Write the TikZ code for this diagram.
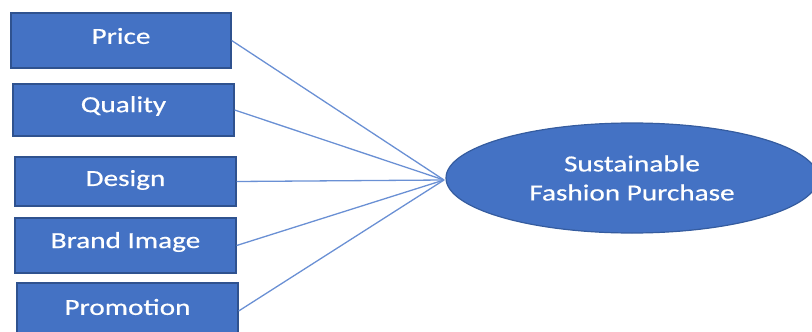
\documentclass[tikz,border=0pt]{standalone}
\usepackage{fontspec}
\newfontfamily\boxfont[FakeStretch=1.27,FakeBold=0.6]{Carlito}
\usetikzlibrary{shapes.geometric}
\definecolor{fillblue}{HTML}{4472C4}
\definecolor{edgeblue}{HTML}{2F528F}
\definecolor{lineblue}{HTML}{6A90D4}
\tikzset{
  factor/.style={draw=edgeblue, line width=1.3pt, fill=fillblue, text=white,
    font=\boxfont\fontsize{23}{27}\selectfont, inner sep=0pt},
  outcome/.style={ellipse, draw=edgeblue!70!fillblue, line width=1.2pt, fill=fillblue, text=white,
    font=\boxfont\fontsize{23}{29}\selectfont, align=center, inner sep=0pt,
    minimum width=372pt, minimum height=110pt},
  link/.style={draw=lineblue, line width=1.3pt},
  lbl/.style={text=white, font=\boxfont\fontsize{23}{27}\selectfont, inner sep=0pt}
}
\begin{document}
\begin{tikzpicture}[x=1pt,y=-1pt]
\useasboundingbox (0,0) rectangle (812,332);
\begin{scope}
\clip (0,0) rectangle (812,332);
\node[factor, minimum width=220pt, minimum height=55pt] (price) at (121,40.5) {};
\node[lbl] (priceT) at (121,36) {Price};
\node[factor, minimum width=221pt, minimum height=52pt] (quality) at (123.5,110) {};
\node[lbl] (qualityT) at (123.5,106) {Quality};
\node[factor, minimum width=221pt, minimum height=49pt] (design) at (125.5,181.5) {};
\node[lbl] (designT) at (125.5,180) {Design};
\node[factor, minimum width=221pt, minimum height=55pt] (brand) at (125.5,245.5) {};
\node[lbl] (brandT) at (125.5,242) {Brand Image};
\node[factor, minimum width=221pt, minimum height=56pt] (promo) at (127.5,311) {};
\node[lbl] (promoT) at (127.5,307) {Promotion};
\node[outcome] (sfp) at (632,178) {Sustainable\\Fashion Purchase};
\coordinate (meet) at (444,180);
\draw[link] (price.east) -- (meet);
\draw[link] (quality.east) -- (meet);
\draw[link] (design.east) -- (meet);
\draw[link] (brand.east) -- (meet);
\draw[link] (promo.east) -- (meet);
\end{scope}
\end{tikzpicture}
\end{document}
